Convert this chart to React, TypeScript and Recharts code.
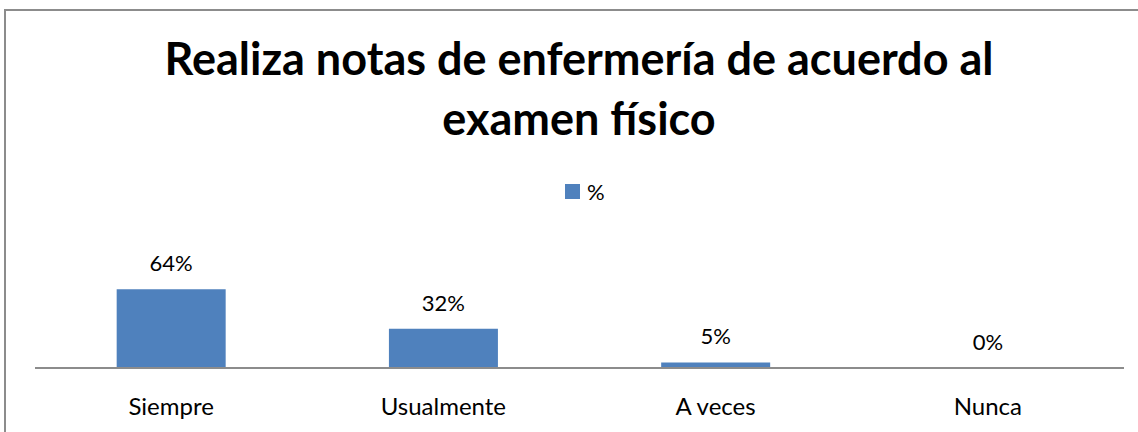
import React from "react";
import {ComposedChart, Bar, Line, XAxis, YAxis, LabelList} from "recharts";

const categories = ["Siempre", "Usualmente", "A veces", "Nunca"];
const percents = [64, 32, 4.5, 0];
const seriesName = "%";
const titleLines = ["Realiza notas de enfermería de acuerdo al", "examen físico"];

const data = categories.map((name, i) => ({name, value: percents[i]}));

const FONT = "Lato, 'Open Sans', sans-serif";

export default function App() {
  return (
    <div style={{position: "absolute", left: 0, top: 0, width: 1138, height: 432, background: "#fff", overflow: "hidden", fontFamily: FONT}}>
      <div
        style={{
          position: "absolute",
          left: 4,
          top: 9,
          width: 1200,
          height: 500,
          borderLeft: "2px solid #8c8c8c",
          borderTop: "2px solid #8c8c8c"
        }}
      />
      <div
        style={{
          position: "absolute",
          left: 10,
          width: 1138,
          top: 28,
          textAlign: "center",
          fontWeight: 700,
          fontSize: 45,
          lineHeight: "60px",
          color: "#000"
        }}
      >
        {titleLines.map((t) => (
          <div key={t}>{t}</div>
        ))}
      </div>
      <div style={{position: "absolute", top: 178, left: 565, display: "flex", alignItems: "center", fontSize: 22}}>
        <span style={{display: "inline-block", width: 15, height: 15, background: "#4F81BD", marginRight: 7}} />
        <span>{seriesName}</span>
      </div>
      <div style={{position: "absolute", left: 0, top: 0}}>
        <ComposedChart width={1138} height={432} data={data} margin={{top: 282, right: 14, bottom: 0, left: 35}} barCategoryGap="30%">
          <XAxis
            dataKey="name"
            height={64}
            axisLine={{stroke: "#8c8c8c", strokeWidth: 2}}
            tickLine={false}
            tick={{fill: "#000", fontSize: 24, fontFamily: FONT}}
            tickMargin={24}
          />
          <YAxis hide domain={[0, 70]} />
          <Bar dataKey="value" fill="#4F81BD" isAnimationActive={false} />
          <Line dataKey="value" stroke="none" dot={false} activeDot={false} isAnimationActive={false}>
            <LabelList
              dataKey="value"
              position="top"
              offset={18}
              formatter={(v: any) => `${Math.round(Number(v))}%`}
              style={{fill: "#000", fontSize: 22, fontFamily: FONT}}
            />
          </Line>
        </ComposedChart>
      </div>
    </div>
  );
}
